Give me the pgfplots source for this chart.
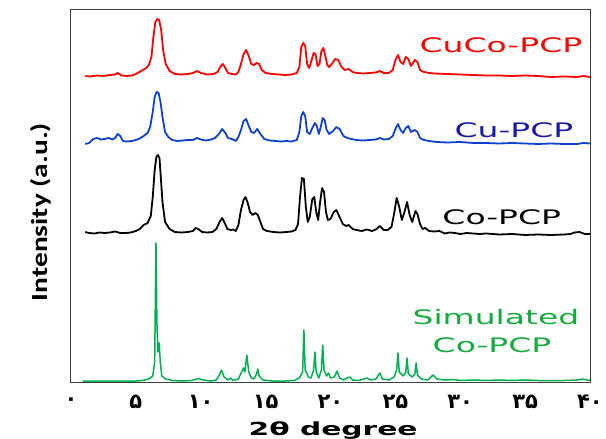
\documentclass[border=0pt]{standalone}
\usepackage{fontspec}
\usepackage{pgfplots}
\pgfplotsset{compat=1.18}
\setmainfont{DejaVu Sans}
\newfontfamily\ylabfont{Carlito}
\newfontfamily\fadigits[Script=Arabic]{DejaVu Sans}
\definecolor{cucored}{RGB}{255,0,0}
\definecolor{cublue}{RGB}{16,64,208}
\definecolor{cutext}{RGB}{26,26,168}
\definecolor{simgreen}{RGB}{0,176,80}
\definecolor{simtext}{RGB}{20,170,60}

\begin{document}
\begin{tikzpicture}
  \begin{axis}[
      scale only axis,
      width=519bp, height=372bp,
      xmin=0, xmax=40, ymin=0, ymax=372,
      xtick={0,5,...,40},
      xticklabels={۰,۵,۱۰,۱۵,۲۰,۲۵,۳۰,۳۵,۴۰},
      ytick=\empty,
      major tick length=0pt,
      xticklabel style={font=\fadigits\bfseries\fontsize{21bp}{24bp}\selectfont,
        anchor=center, yshift=-20bp},
      axis line style={draw=black!75, line width=1bp},
      clip=false,
      every axis plot/.append style={line width=1.8bp, line join=round},
    ]
    % CuCo-PCP
    \addplot[cucored] coordinates {
      (1.1,306) (1.5,305.5) (2.0,306.5) (2.5,306) (3.0,307) (3.4,307.5) (3.6,309) (3.9,306.5)
      (4.3,306) (4.7,306.5) (5.0,308) (5.4,311) (5.8,314) (6.0,317) (6.2,325) (6.35,345)
      (6.5,360) (6.65,363) (6.8,362) (6.95,352) (7.1,332) (7.3,318) (7.6,311) (8.0,308)
      (8.5,307.5) (9.0,308) (9.4,309) (9.7,311) (10.0,309) (10.5,307.5) (11.0,308) (11.3,310)
      (11.5,315) (11.7,318) (11.9,314) (12.1,309) (12.4,308) (12.7,307.5) (12.9,310) (13.1,318)
      (13.3,328) (13.5,332) (13.7,326) (13.9,318) (14.1,317) (14.3,319) (14.5,318) (14.7,312)
      (15.0,309) (15.5,308) (16.0,307.5) (16.5,307) (17.0,307.5) (17.4,309) (17.6,315) (17.75,335)
      (17.9,339) (18.05,336) (18.2,318) (18.35,314) (18.5,320) (18.7,329) (18.85,328) (19.0,316)
      (19.15,318) (19.3,331) (19.45,334) (19.6,326) (19.75,317) (19.9,315) (20.1,318) (20.35,323)
      (20.6,322) (20.85,315) (21.1,312) (21.4,313) (21.7,310) (22.0,309) (22.5,308.5) (23.0,309)
      (23.5,309.5) (23.8,311) (24.1,309) (24.5,309) (24.8,312) (25.0,322) (25.2,327) (25.4,320)
      (25.6,318) (25.8,325) (26.0,323) (26.2,316) (26.5,322) (26.7,320) (26.9,312) (27.2,310)
      (27.6,309) (28.0,308.5) (29,308) (30,307.5) (31,307) (32,306.5) (33,306.5) (34,306)
      (35,306.5) (36,306) (37,305) (38,305.5) (39,305) (39.5,306) (40,305)};
    % Cu-PCP
    \addplot[cublue] coordinates {
      (1.1,238) (1.4,239) (1.7,243) (2.0,244) (2.3,242.5) (2.6,243) (2.9,244) (3.2,242.5)
      (3.4,244) (3.6,248) (3.8,246) (4.0,241) (4.3,240.5) (4.7,241) (5.0,242) (5.3,243.5)
      (5.6,246) (5.9,249) (6.1,255) (6.3,270) (6.45,285) (6.6,290) (6.75,289) (6.9,280)
      (7.05,265) (7.25,250) (7.5,245) (7.8,242) (8.2,241) (8.6,241.5) (9.0,242) (9.4,242)
      (9.7,244) (10.0,242.5) (10.4,241.5) (10.8,242.5) (11.1,244) (11.4,248) (11.65,253) (11.9,249)
      (12.1,244) (12.4,243) (12.7,241) (12.9,245) (13.1,252) (13.3,261) (13.5,263) (13.7,256)
      (13.9,250) (14.1,249) (14.35,253) (14.6,248) (14.9,243) (15.3,241.5) (15.8,241) (16.2,240.5)
      (16.6,241) (17.0,240.5) (17.4,242) (17.6,250) (17.75,266) (17.9,270) (18.05,266) (18.2,250)
      (18.4,248) (18.6,254) (18.8,259) (18.95,256) (19.1,248) (19.25,255) (19.4,264) (19.55,262)
      (19.7,252) (19.9,248) (20.2,251) (20.45,255) (20.7,253) (21.0,246) (21.3,244) (21.6,243)
      (22.0,242) (22.5,241.5) (23.0,242) (23.5,242.5) (23.8,244) (24.1,242.5) (24.5,243) (24.8,246)
      (25.0,253) (25.2,258) (25.4,252) (25.6,249) (25.8,254) (26.0,256) (26.2,250) (26.5,252)
      (26.7,250) (26.9,244) (27.2,242) (27.6,241) (28.2,240) (29,239.5) (30,240) (31,239)
      (32,239) (33,238.5) (34,239) (35,238.5) (36,238) (37,238.5) (38,238) (39,238)
      (39.5,239) (40,238.5)};
    % Co-PCP
    \addplot[black] coordinates {
      (1.1,150) (1.4,149) (1.8,148.5) (2.2,149.5) (2.6,149) (3.0,149.5) (3.4,150.5) (3.8,149)
      (4.2,149) (4.6,149.5) (5.0,151) (5.3,153) (5.6,157) (5.9,159) (6.15,166) (6.3,185)
      (6.45,212) (6.58,225) (6.7,227) (6.82,224) (6.92,205) (7.05,180) (7.25,160) (7.6,153)
      (8.0,150) (8.5,149.5) (9.0,150) (9.4,151) (9.6,154) (9.8,153) (10.1,150) (10.5,149.5)
      (10.9,150) (11.2,153) (11.45,160) (11.65,164) (11.85,159) (12.05,153) (12.3,152) (12.5,152.5)
      (12.7,151) (12.9,157) (13.1,172) (13.3,182) (13.45,185) (13.6,180) (13.8,170) (14.0,167)
      (14.2,169) (14.4,167) (14.6,160) (14.8,153) (15.1,151) (15.6,150) (16.1,149.5) (16.6,150)
      (17.0,150.5) (17.3,152) (17.5,158) (17.65,185) (17.8,204) (17.95,203) (18.1,175) (18.25,160)
      (18.4,165) (18.6,183) (18.75,185) (18.9,170) (19.05,162) (19.2,180) (19.35,194) (19.5,190)
      (19.65,170) (19.8,162) (20.0,163) (20.25,170) (20.45,172) (20.7,165) (20.95,158) (21.2,156)
      (21.4,157) (21.7,153) (22.0,152) (22.4,151) (22.8,152.5) (23.2,151) (23.5,152.5) (23.8,156)
      (24.1,152) (24.4,152) (24.7,155) (24.9,168) (25.1,184) (25.3,175) (25.5,162) (25.7,170)
      (25.9,180) (26.1,167) (26.3,160) (26.55,171) (26.7,168) (26.9,158) (27.1,153) (27.3,154)
      (27.6,151) (28.0,150.5) (28.4,151) (28.8,148.5) (29.2,149.5) (29.6,149) (30,148) (30.5,149)
      (31,148.5) (31.5,148) (32,148.5) (32.5,148) (33,147.5) (34,148) (35,147) (36,147.5)
      (37,147) (38,147.5) (38.5,148) (38.8,149.5) (39.2,150) (39.6,148) (40,148)};
    % Simulated Co-PCP
    \addplot[simgreen, line width=1.5bp] coordinates {
      (0.9,1) (2,1) (3,1) (4,1) (5,1) (5.5,1.5) (6.0,3) (6.3,6)
      (6.45,20) (6.55,139) (6.62,60) (6.7,30) (6.8,39) (6.88,20) (7.0,6) (7.3,3)
      (7.8,1.5) (8.5,1) (9.3,1.5) (9.8,3.5) (10.2,2) (10.8,1) (11.2,2) (11.4,6)
      (11.6,12) (11.8,5) (12.1,2) (12.3,4) (12.5,1.5) (12.9,3) (13.15,10) (13.3,14)
      (13.4,10) (13.55,27) (13.7,10) (13.9,4) (14.1,3) (14.3,8) (14.4,13) (14.5,6)
      (14.8,2) (15.5,1) (16.5,1) (17.2,1.5) (17.6,4) (17.85,10) (17.95,52) (18.05,12)
      (18.3,5) (18.5,4) (18.7,12) (18.8,30) (18.9,10) (19.1,4) (19.3,12) (19.4,37)
      (19.5,12) (19.7,6) (19.85,9) (20.0,4) (20.3,5) (20.5,11) (20.7,4) (21.0,2)
      (21.3,4) (21.5,5) (21.7,2) (22.2,1.5) (22.8,4) (23.1,2) (23.5,3) (23.8,9)
      (24.0,3) (24.5,2) (24.9,5) (25.1,12) (25.2,29) (25.3,10) (25.6,6) (25.8,10)
      (25.9,24) (26.0,8) (26.3,5) (26.5,8) (26.6,19) (26.7,7) (27.0,3) (27.5,2)
      (27.9,7) (28.2,3) (28.8,2) (29.5,2.5) (30,1.5) (31,2) (32,1.5) (33,2)
      (34,1.5) (35,2) (36,1.5) (37,1.5) (38,1.5) (39,2) (39.4,3) (39.8,2) (40,2)};

    % series names
    \begin{scope}[every node/.style={font=\fontsize{20bp}{24bp}\selectfont, inner sep=0pt}]
      \node[text=cucored] at (axis cs:33.14,337) {\scalebox{1.65}[1]{CuCo-PCP}};
      \node[text=cutext]  at (axis cs:34.14,252) {\scalebox{1.65}[1]{Cu-PCP}};
      \node[text=black]   at (axis cs:33.2,165)  {\scalebox{1.65}[1]{Co-PCP}};
      \node[text=simtext] at (axis cs:32.75,65)  {\scalebox{1.65}[1]{Simulated}};
      \node[text=simtext] at (axis cs:32.45,37)  {\scalebox{1.65}[1]{Co-PCP}};
    \end{scope}

    % axis titles
    \node[rotate=90, inner sep=0pt, font=\ylabfont\bfseries\fontsize{23bp}{26bp}\selectfont]
      at (axis cs:-2.31,170) {\scalebox{1.28}[1]{Intensity (a.u.)}};
    \node[anchor=base, inner sep=0pt, font=\bfseries\fontsize{18bp}{22bp}\selectfont]
      at (axis cs:20.2,-53) {\scalebox{1.65}[1]{2θ degree}};
  \end{axis}
  \pgfresetboundingbox
  \path (-71bp,-57bp) rectangle (535bp,382bp);
\end{tikzpicture}
\end{document}
